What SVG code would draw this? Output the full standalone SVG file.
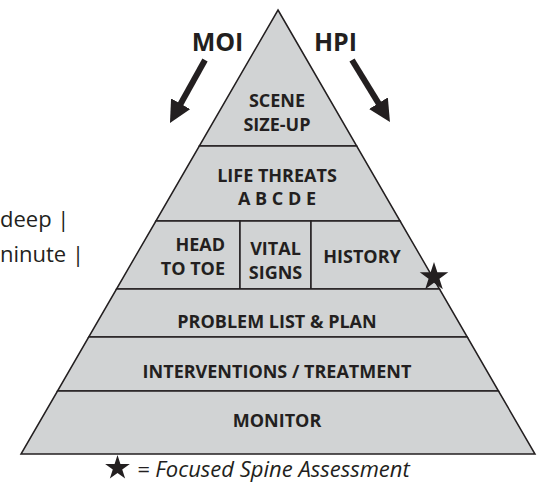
<svg xmlns="http://www.w3.org/2000/svg" xmlns:xlink="http://www.w3.org/1999/xlink" width="540" height="484" viewBox="0 0 540 484">
<style>
.band{fill:#d1d3d4;stroke:#231f20;stroke-width:1.5;stroke-linejoin:miter}
.lbl{font-family:"Open Sans","Liberation Sans",sans-serif;font-weight:700;font-size:18px;fill:#231f20;text-anchor:middle}
.big{font-family:"Open Sans","Liberation Sans",sans-serif;font-weight:700;font-size:25px;fill:#231f20;text-anchor:middle}
.side{font-family:"Open Sans","Liberation Sans",sans-serif;font-size:22px;fill:#231f20}
.legend{font-family:"Open Sans","Liberation Sans",sans-serif;font-style:italic;font-size:22px;fill:#231f20}
.arrow{stroke:#231f20;stroke-width:6;fill:none;marker-end:url(#head)}
.star{fill:#231f20}
</style>
<defs>
<marker id="head" markerUnits="userSpaceOnUse" markerWidth="22" markerHeight="22" viewBox="0 0 22 22" refX="2" refY="11" orient="auto">
<path d="M0,0 L22,11 L0,22 z" fill="#231f20"/>
</marker>
<path id="star" d="M0,-1 L0.2245,-0.309 L0.9511,-0.309 L0.3633,0.118 L0.5878,0.809 L0,0.382 L-0.5878,0.809 L-0.3633,0.118 L-0.9511,-0.309 L-0.2245,-0.309 Z"/>
</defs>

<g id="connectors">
<line class="arrow" x1="205" y1="60" x2="179.7" y2="105.5"/>
<line class="arrow" x1="352" y1="60" x2="379.5" y2="104.9"/>
</g>

<g id="moi"><text class="big" x="217.5" y="51">MOI</text></g>
<g id="hpi"><text class="big" x="335.5" y="51">HPI</text></g>

<g id="scene-size-up">
<polygon class="band" points="278,10 356.7,146 199.3,146"/>
<text class="lbl" x="277" y="107">SCENE</text>
<text class="lbl" x="277" y="131">SIZE-UP</text>
</g>
<g id="life-threats">
<polygon class="band" points="199.3,146 356.7,146 400.1,221 155.9,221"/>
<text class="lbl" x="277" y="182">LIFE THREATS</text>
<text class="lbl" x="277" y="205">A B C D E</text>
</g>
<g id="head-to-toe">
<polygon class="band" points="155.9,221 240,221 240,289 116.5,289"/>
<text class="lbl" x="225" y="251" style="text-anchor:end">HEAD</text>
<text class="lbl" x="225" y="275" style="text-anchor:end">TO TOE</text>
</g>
<g id="vital-signs">
<polygon class="band" points="240,221 311,221 311,289 240,289"/>
<text class="lbl" x="275.5" y="255">VITAL</text>
<text class="lbl" x="275.5" y="279">SIGNS</text>
</g>
<g id="history">
<polygon class="band" points="311,221 400.1,221 439.5,289 311,289"/>
<text class="lbl" x="362" y="263">HISTORY</text>
</g>
<g id="problem-list">
<polygon class="band" points="116.5,289 439.5,289 467.3,337 88.7,337"/>
<text class="lbl" x="277" y="328">PROBLEM LIST &amp; PLAN</text>
</g>
<g id="interventions">
<polygon class="band" points="88.7,337 467.3,337 498.5,391 57.5,391"/>
<text class="lbl" x="277" y="378">INTERVENTIONS / TREATMENT</text>
</g>
<g id="monitor">
<polygon class="band" points="57.5,391 498.5,391 535,454 21,454"/>
<text class="lbl" x="277" y="427">MONITOR</text>
</g>

<g id="spine-star"><use href="#star" xlink:href="#star" class="star" transform="translate(434,277) scale(15)"/></g>

<g id="side-text">
<text class="side" x="0" y="227">deep |</text>
<text class="side" x="0" y="262">ninute |</text>
</g>

<g id="legend">
<use href="#star" xlink:href="#star" class="star" transform="translate(117.5,468) scale(13)"/>
<text class="legend" x="137" y="477">= Focused Spine Assessment</text>
</g>
</svg>
